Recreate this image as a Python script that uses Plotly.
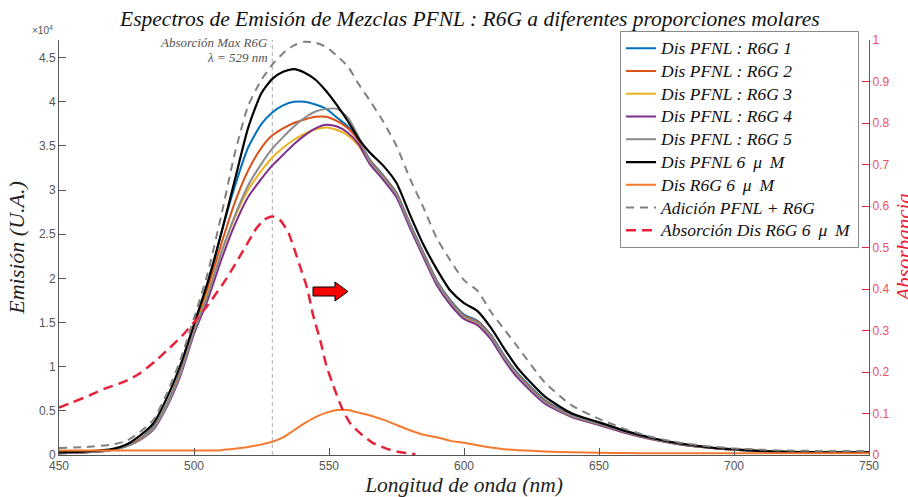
import plotly.graph_objects as go

# ---------------- data (emission in units of 1e4, absorbance 0-1) ----------------
wl = [450, 460, 470, 475, 480, 485, 490, 495, 500, 505, 510, 515, 520, 525, 529, 533, 537,
      541, 545, 549, 553, 557, 561, 565, 570, 575, 580, 585, 590, 595, 600, 605, 610, 615,
      620, 630, 640, 650, 660, 670, 680, 690, 700, 710, 720, 735, 750]

pfnl_6uM = [0.03, 0.04, 0.07, 0.12, 0.22, 0.36, 0.65, 1.02, 1.48, 1.95, 2.5, 3.1, 3.7, 4.1, 4.26,
            4.34, 4.37, 4.33, 4.25, 4.12, 3.96, 3.78, 3.58, 3.43, 3.28, 3.08, 2.72, 2.38, 2.1,
            1.86, 1.72, 1.63, 1.44, 1.2, 0.98, 0.66, 0.47, 0.37, 0.27, 0.19, 0.13, 0.09, 0.065,
            0.045, 0.035, 0.03, 0.03]

mix_1 = [0.02, 0.03, 0.06, 0.1, 0.18, 0.32, 0.58, 0.95, 1.43, 1.9, 2.5, 3.03, 3.48, 3.75, 3.88,
         3.96, 4.0, 4.0, 3.97, 3.92, 3.82, 3.72, 3.57, 3.35, 3.17, 2.97, 2.62, 2.29, 1.97,
         1.75, 1.59, 1.52, 1.36, 1.12, 0.92, 0.62, 0.45, 0.36, 0.26, 0.18, 0.125, 0.085, 0.06,
         0.045, 0.035, 0.03, 0.03]

mix_2 = [0.02, 0.03, 0.06, 0.1, 0.18, 0.31, 0.57, 0.94, 1.42, 1.88, 2.38, 2.85, 3.22, 3.48, 3.62,
         3.7, 3.76, 3.8, 3.83, 3.83, 3.78, 3.7, 3.56, 3.34, 3.16, 2.96, 2.61, 2.28, 1.96,
         1.74, 1.58, 1.51, 1.35, 1.11, 0.91, 0.61, 0.44, 0.35, 0.26, 0.18, 0.125, 0.085, 0.06,
         0.045, 0.035, 0.03, 0.03]

mix_3 = [0.02, 0.03, 0.06, 0.1, 0.17, 0.3, 0.56, 0.92, 1.4, 1.82, 2.28, 2.68, 3.0, 3.22, 3.37,
         3.48, 3.57, 3.64, 3.69, 3.71, 3.68, 3.62, 3.5, 3.31, 3.13, 2.93, 2.58, 2.25, 1.93,
         1.71, 1.55, 1.48, 1.32, 1.08, 0.88, 0.59, 0.43, 0.34, 0.25, 0.175, 0.12, 0.085, 0.06,
         0.045, 0.035, 0.03, 0.03]

mix_4 = [0.02, 0.03, 0.06, 0.1, 0.17, 0.29, 0.55, 0.9, 1.37, 1.75, 2.2, 2.6, 2.92, 3.13, 3.28,
         3.4, 3.52, 3.62, 3.7, 3.74, 3.72, 3.65, 3.52, 3.3, 3.12, 2.92, 2.57, 2.24, 1.92,
         1.7, 1.54, 1.47, 1.31, 1.07, 0.87, 0.58, 0.43, 0.34, 0.25, 0.175, 0.12, 0.085, 0.06,
         0.045, 0.035, 0.03, 0.03]

mix_5 = [0.02, 0.03, 0.06, 0.1, 0.17, 0.3, 0.56, 0.92, 1.4, 1.8, 2.28, 2.7, 3.05, 3.3, 3.47,
         3.6, 3.72, 3.82, 3.89, 3.92, 3.92, 3.82, 3.6, 3.33, 3.15, 2.95, 2.6, 2.27, 1.95,
         1.73, 1.57, 1.5, 1.34, 1.1, 0.9, 0.6, 0.44, 0.35, 0.26, 0.18, 0.125, 0.085, 0.06,
         0.045, 0.035, 0.03, 0.03]

r6g_6uM = [0.05, 0.05, 0.05, 0.05, 0.05, 0.05, 0.05, 0.05, 0.05, 0.05, 0.055, 0.07, 0.09, 0.12,
           0.15, 0.2, 0.28, 0.36, 0.43, 0.48, 0.51, 0.51, 0.48, 0.45, 0.4, 0.34, 0.28, 0.23,
           0.2, 0.16, 0.14, 0.11, 0.085, 0.065, 0.055, 0.04, 0.03, 0.025, 0.022, 0.02, 0.02,
           0.02, 0.02, 0.02, 0.02, 0.02, 0.02]

adicion = [0.08, 0.09, 0.12, 0.16, 0.26, 0.4, 0.7, 1.08, 1.55, 2.05, 2.7, 3.4, 3.95, 4.25, 4.42,
           4.55, 4.64, 4.68, 4.67, 4.62, 4.52, 4.4, 4.2, 4.02, 3.78, 3.5, 3.13, 2.8, 2.45, 2.2,
           1.98, 1.86, 1.62, 1.42, 1.22, 0.82, 0.56, 0.41, 0.29, 0.2, 0.14, 0.1, 0.075, 0.06,
           0.05, 0.045, 0.045]

wl_abs = [450, 455, 461.5, 467, 474, 480, 486, 491, 496, 500, 505, 512, 518, 523, 526, 529, 532,
          535, 539, 542, 544, 547, 549, 552, 555, 558, 562, 566, 571, 576, 582]
abs_r6g = [0.114, 0.127, 0.144, 0.16, 0.176, 0.197, 0.228, 0.258, 0.29, 0.32, 0.36, 0.425, 0.49,
           0.545, 0.567, 0.575, 0.565, 0.535, 0.46, 0.4, 0.34, 0.27, 0.216, 0.16, 0.11, 0.075,
           0.05, 0.03, 0.016, 0.007, 0.002]

abs_max_wl = 529
scale = 1e4
y_ticks = [0, 0.5, 1, 1.5, 2, 2.5, 3, 3.5, 4, 4.5]
x_ticks = [450, 500, 550, 600, 650, 700, 750]

series = [
    ("Dis PFNL : R6G 1", mix_1, "#0072BD", "solid", 2),
    ("Dis PFNL : R6G 2", mix_2, "#D95319", "solid", 2),
    ("Dis PFNL : R6G 3", mix_3, "#EDB120", "solid", 2),
    ("Dis PFNL : R6G 4", mix_4, "#7E2F8E", "solid", 2),
    ("Dis PFNL : R6G 5", mix_5, "#8a8a8a", "solid", 2),
    ("Dis PFNL 6 \u2009μ\u2009 M", pfnl_6uM, "#000000", "solid", 2.2),
    ("Dis R6G 6 \u2009μ\u2009 M", r6g_6uM, "#F57A30", "solid", 2),
    ("Adición PFNL + R6G", adicion, "#808080", "8px,6px", 2),
]

serif = "Liberation Serif"
sans = "Liberation Sans"
red = "#e8213a"
LEG_TXT = '<span style="font-size:17.5px">{}</span>'

fig = go.Figure()
for name, vals, col, dash, w in series:
    fig.add_trace(go.Scatter(
        x=wl, y=[v * scale for v in vals], name=LEG_TXT.format(name), mode="lines",
        line=dict(color=col, width=w, dash=dash, shape="spline", smoothing=0.6)))

fig.add_trace(go.Scatter(
    x=wl_abs, y=abs_r6g, name=LEG_TXT.format("Absorción Dis R6G 6 \u2009μ\u2009 M"), mode="lines",
    yaxis="y2",
    line=dict(color=red, width=2.5, dash="10px,6px", shape="spline", smoothing=0.6)))

fig.add_shape(type="line", xref="x", yref="paper", x0=abs_max_wl, x1=abs_max_wl, y0=0, y1=1,
              line=dict(color="#aaaaaa", width=1, dash="4px,3px"), layer="below")

# red block arrow (decoration)
fig.add_shape(type="path", xref="paper", yref="paper",
              path="M 0.3136 0.4048 L 0.3407 0.4048 L 0.3407 0.4169 L 0.3568 0.394 "
                   "L 0.3407 0.3711 L 0.3407 0.3831 L 0.3136 0.3831 Z",
              fillcolor="#ff0000", line=dict(color="#000000", width=1))

fig.update_layout(
    width=908, height=497,
    margin=dict(l=59, r=39, t=40, b=42, autoexpand=False),
    paper_bgcolor="white", plot_bgcolor="white",
    title=dict(text="Espectros de Emisión de Mezclas PFNL : R6G a diferentes proporciones molares",
               x=0.5175, xanchor="center", y=0.963, yanchor="middle",
               font=dict(family=serif, size=21.5, color="#111111", style="italic")),
    xaxis=dict(range=[450, 750], tickvals=x_ticks, ticks="inside", ticklen=7, automargin=False,
               tickcolor="#555555", showline=True, linecolor="#555555", linewidth=1,
               showgrid=False, zeroline=False,
               tickfont=dict(family=sans, size=12, color="#555555"),
               title=dict(text="Longitud de onda (nm)", standoff=4,
                          font=dict(family=serif, size=21.5, color="#222222", style="italic"))),
    yaxis=dict(range=[0, 4.7 * scale], tickvals=[t * scale for t in y_ticks], automargin=False,
               ticktext=[f"{t:g}" for t in y_ticks], ticks="inside", ticklen=7,
               tickcolor="#555555", showline=True, linecolor="#555555", linewidth=1,
               showgrid=False, zeroline=False,
               tickfont=dict(family=sans, size=12, color="#555555"),
               title=dict(text="Emisión (U.A.)", standoff=8,
                          font=dict(family=serif, size=22, color="#222222", style="italic"))),
    yaxis2=dict(range=[0, 1], overlaying="y", side="right", dtick=0.1, ticks="inside",
                ticklen=7, tickcolor=red, showline=True, linecolor=red, linewidth=1,
                showgrid=False, zeroline=False, automargin=False,
                tickfont=dict(family=sans, size=12, color="#ee5060")),
    legend=dict(x=0.6926, y=1.022, xanchor="left", yanchor="top",
                bgcolor="white", bordercolor="#8a8a8a", borderwidth=1,
                font=dict(family=serif, size=15.2, color="#111111", style="italic"),
                itemwidth=30, tracegroupgap=0),
    showlegend=True,
    hovermode=False,
)

fig.add_annotation(xref="paper", yref="paper", x=-0.005, y=1.005, xanchor="right", yanchor="bottom",
                   text="×10<sup>4</sup>", showarrow=False,
                   font=dict(family=sans, size=10, color="#555555"))
fig.add_annotation(xref="x", yref="paper", x=abs_max_wl, y=0.993, xanchor="right", yanchor="middle",
                   text="Absorción Max R6G", showarrow=False, xshift=-2,
                   font=dict(family=serif, size=13, color="#555555", style="italic"))
fig.add_annotation(xref="x", yref="paper", x=abs_max_wl, y=0.957, xanchor="right", yanchor="middle",
                   text=f"λ = {abs_max_wl} nm", showarrow=False, xshift=-2,
                   font=dict(family=serif, size=13, color="#555555", style="italic"))
fig.add_annotation(xref="paper", yref="paper", x=1.0432, y=0.5, xanchor="center", yanchor="middle",
                   text="Absorbancia", textangle=-90, showarrow=False,
                   font=dict(family=serif, size=21, color=red, style="italic"))

fig.write_html("out.html", config={"displayModeBar": False},
               post_script="document.body.style.margin='0px';")
